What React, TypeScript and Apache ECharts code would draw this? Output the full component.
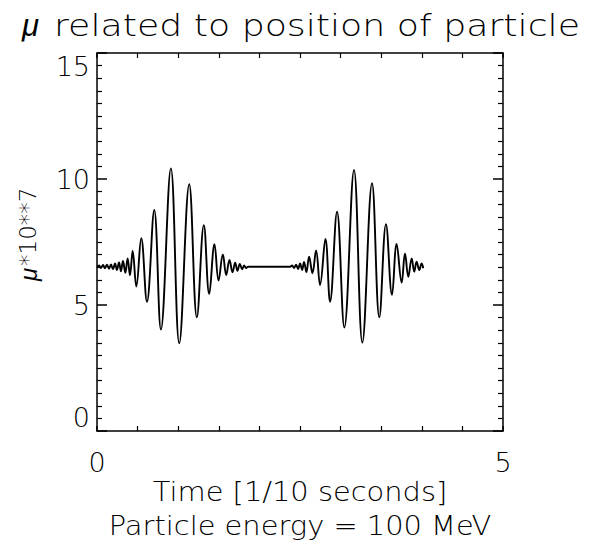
import React, { useEffect, useRef } from "react";
import * as echarts from "echarts";

// Time [1/10 seconds]
const time: number[] = [
  0, 0.025, 0.049, 0.074, 0.098, 0.123, 0.148, 0.172, 0.197, 0.221,
  0.246, 0.271, 0.295, 0.32, 0.349, 0.377, 0.406,
  0.439, 0.484, 0.545, 0.615, 0.705, 0.787, 0.91, 1.013, 1.136, 1.23,
  1.316, 1.382, 1.447, 1.497, 1.55, 1.591, 1.632, 1.669, 1.702, 1.73,
  1.759, 1.788, 1.812, 1.837, 1.861,
  2.378, 2.403, 2.427, 2.452, 2.476, 2.501, 2.526, 2.55, 2.579, 2.612,
  2.653, 2.698, 2.747, 2.813, 2.87, 2.956, 3.046, 3.165, 3.268, 3.387,
  3.477, 3.559, 3.633, 3.69, 3.752, 3.793, 3.834, 3.875, 3.907, 3.936,
  3.969, 3.998, 4.018,
];

// mu * 10**7
const mu: number[] = [
  6.52, 6.57, 6.47, 6.59, 6.46, 6.6, 6.44, 6.61, 6.42, 6.65,
  6.39, 6.69, 6.34, 6.75, 6.28, 6.85, 6.18,
  7.14, 5.73, 7.65, 5.13, 8.77, 4.03, 10.42, 3.48, 9.79, 4.51,
  8.17, 5.44, 7.41, 5.97, 7.01, 6.19, 6.79, 6.3, 6.68, 6.36,
  6.63, 6.42, 6.57, 6.47, 6.52,
  6.52, 6.57, 6.47, 6.6, 6.43, 6.65, 6.39, 6.71, 6.31, 6.92,
  6.26, 7.16, 5.79, 7.62, 5.13, 8.7, 4.11, 10.36, 3.51, 9.83,
  4.51, 8.21, 5.4, 7.42, 5.89, 7.05, 6.12, 6.85, 6.32, 6.72,
  6.39, 6.65, 6.46,
];

const xTickLabels: number[] = [0, 5];

const FONT = "'DejaVu Sans', sans-serif";
const W = 200;

export default function App() {
  const ref = useRef<HTMLDivElement>(null);

  useEffect(() => {
    if (!ref.current) return;
    const chart = echarts.init(ref.current, undefined, { renderer: "svg" });
    const lineStyle = { color: "#000", width: 1.5 };
    const baseX = {
      type: "value" as const,
      min: 0,
      max: 5,
      interval: 5,
      axisLine: { show: true, onZero: false, lineStyle },
      axisTick: { show: true, inside: true, length: 5, lineStyle },
      minorTick: { show: true, splitNumber: 10, length: 5, lineStyle: { color: "#000", width: 1.2 } },
      splitLine: { show: false },
      minorSplitLine: { show: false },
    };
    const baseY = {
      type: "value" as const,
      min: 0,
      max: 15,
      interval: 5,
      axisLine: { show: true, onZero: false, lineStyle },
      axisTick: { show: true, inside: true, length: 10, lineStyle },
      minorTick: { show: true, splitNumber: 10, length: 5, lineStyle: { color: "#000", width: 1.2 } },
      splitLine: { show: false },
      minorSplitLine: { show: false },
    };
    chart.setOption({
      animation: false,
      backgroundColor: "#fff",
      grid: { left: 97, right: 86, top: 53, bottom: 115 },
      xAxis: [
        {
          ...baseX,
          position: "bottom",
          axisLabel: {
            show: true,
            color: "#000",
            fontFamily: FONT,
            fontWeight: W,
            fontSize: 27,
            margin: 18,
            formatter: (v: number) => (xTickLabels.indexOf(v) >= 0 ? String(v) : ""),
          },
        },
        { ...baseX, position: "top", axisLabel: { show: false } },
      ],
      yAxis: [
        {
          ...baseY,
          position: "left",
          axisLabel: {
            show: true,
            color: "#000",
            fontFamily: FONT,
            fontWeight: W,
            fontSize: 27,
            margin: 7,
            verticalAlignMinLabel: "bottom",
            verticalAlignMaxLabel: "top",
          },
        },
        { ...baseY, position: "right", axisLabel: { show: false } },
      ],
      series: [
        {
          type: "line",
          xAxisIndex: 0,
          yAxisIndex: 0,
          data: time.map((t, i) => [t, mu[i]]),
          showSymbol: false,
          smooth: 0.4,
          lineStyle: { color: "#000", width: 1.9 },
        },
      ],
      graphic: [
        {
          type: "text",
          x: 22,
          y: 25,
          style: {
            text: "μ",
            font: `italic 300 31px 'Liberation Sans', sans-serif`,
            fill: "#000",
            align: "left",
            verticalAlign: "middle",
          },
        },
        {
          type: "text",
          x: 54,
          y: 25,
          scaleX: 1.17,
          style: {
            text: "related to position of particle",
            font: `${W} 31px ${FONT}`,
            fill: "#000",
            align: "left",
            verticalAlign: "middle",
          },
        },
        {
          type: "text",
          x: 300,
          y: 492,
          scaleX: 1.07,
          style: {
            text: "Time [1/10 seconds]",
            font: `${W} 27px ${FONT}`,
            fill: "#000",
            align: "center",
            verticalAlign: "middle",
          },
        },
        {
          type: "text",
          x: 300,
          y: 526,
          scaleX: 1.07,
          style: {
            text: "Particle energy = 100 MeV",
            font: `${W} 27px ${FONT}`,
            fill: "#000",
            align: "center",
            verticalAlign: "middle",
          },
        },
        {
          type: "text",
          x: 28,
          y: 281,
          rotation: Math.PI / 2,
          style: {
            text: "μ",
            font: `italic 300 24px 'Liberation Sans', sans-serif`,
            fill: "#000",
            align: "left",
            verticalAlign: "middle",
          },
        },
        {
          type: "text",
          x: 28,
          y: 266,
          rotation: Math.PI / 2,
          style: {
            text: "*10**7",
            font: `${W} 23px ${FONT}`,
            fill: "#000",
            align: "left",
            verticalAlign: "middle",
          },
        },
      ],
    });
    return () => chart.dispose();
  }, []);

  return (
    <div
      ref={ref}
      style={{ position: "absolute", left: 0, top: 0, width: 589, height: 546 }}
    />
  );
}
